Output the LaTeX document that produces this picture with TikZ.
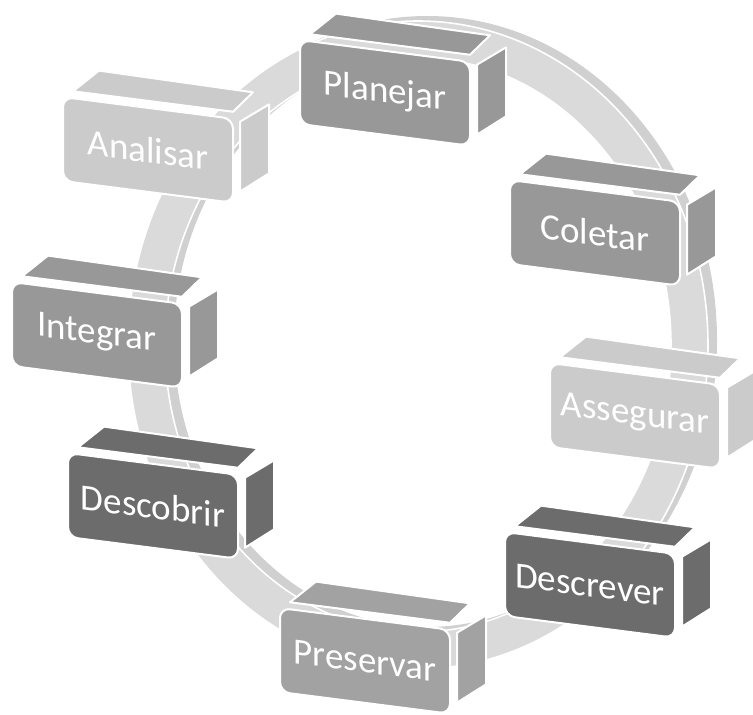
\documentclass[tikz,border=0pt]{standalone}
\usepackage{fontspec}
\setmainfont{Carlito}
\definecolor{ringtop}{HTML}{DADADA}
\definecolor{ringwall}{HTML}{D0D0D0}
\definecolor{greymid}{HTML}{989898}
\definecolor{greylight}{HTML}{CBCBCB}
\definecolor{greydark}{HTML}{6C6C6C}
\definecolor{greysoft}{HTML}{A2A2A2}
\begin{document}
\begin{tikzpicture}[x=1pt,y=-1pt,
  cubeface/.style={fill=#1, draw=white, line width=2pt, line join=round},
  steptext/.style={text=white, font=\fontsize{37}{40}\selectfont,
    transform shape, inner sep=0pt}]
\useasboundingbox (0,0) rectangle (753,715);

% the cycle ring: side wall first, then the top band
\coordinate (ringc) at (418,345);
\fill[ringwall, even odd rule]
  ([shift={(9,-5)}]ringc) ellipse [x radius=290, y radius=324]
  ([shift={(9,-5)}]ringc) ellipse [x radius=253, y radius=287];
\filldraw[fill=ringtop, draw=white, line width=1.6pt, even odd rule]
  (ringc) ellipse [x radius=290, y radius=324]
  (ringc) ellipse [x radius=253, y radius=287];

% one step of the cycle: front, top and right faces, slanted
\newcommand\cyclestep[5]{%
  \begin{scope}[shift={(#2,#3)}, yslant=-0.128]
    \path[cubeface=#4] (10,-7) -- (170,-7) -- (190,-29) -- (36,-31) -- cycle;
    \path[cubeface=#4] (177,2) -- (177,72) -- (206,50) -- (206,-19) -- cycle;
    \path[cubeface=#4, rounded corners=10pt] (0,0) rectangle (170,84);
    \node[steptext] (#1) at (85,42) {#5};
  \end{scope}}

\cyclestep{planejar}{300}{40}{greymid}{Planejar}
\cyclestep{coletar}{510}{180}{greymid}{Coletar}
\cyclestep{assegurar}{550}{363}{greylight}{Assegurar}
\cyclestep{descrever}{505}{532}{greydark}{Descrever}
\cyclestep{preservar}{280}{608}{greysoft}{Preservar}
\cyclestep{descobrir}{68}{453}{greydark}{Descobrir}
\cyclestep{integrar}{12}{282}{greymid}{Integrar}
\cyclestep{analisar}{63}{97}{greylight}{Analisar}
\end{tikzpicture}
\end{document}
